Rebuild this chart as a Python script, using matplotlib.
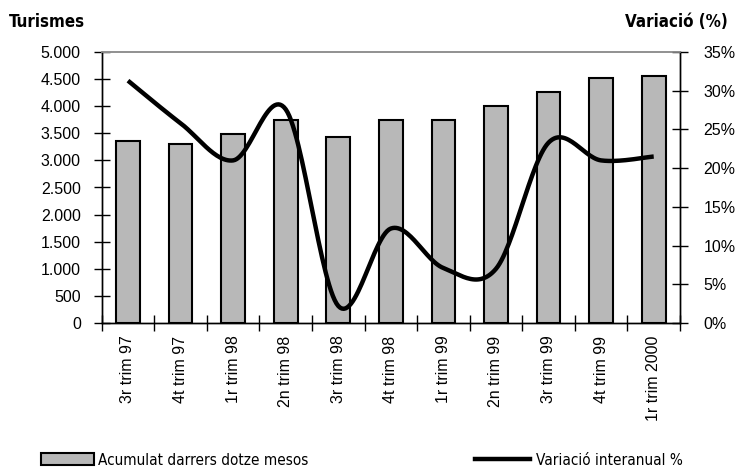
import numpy as np
import matplotlib
matplotlib.use("Agg")
import matplotlib.pyplot as plt
from matplotlib.patches import Patch
from matplotlib.lines import Line2D
from matplotlib.ticker import FuncFormatter, MultipleLocator
from matplotlib import font_manager as fm

categories = ["3r trim 97", "4t trim 97", "1r trim 98", "2n trim 98", "3r trim 98",
              "4t trim 98", "1r trim 99", "2n trim 99", "3r trim 99", "4t trim 99",
              "1r trim 2000"]
acumulat = [3360, 3310, 3490, 3750, 3440, 3750, 3750, 4000, 4260, 4520, 4560]
variacio = [31.3, 25.8, 21.0, 27.6, 2.2, 12.2, 7.1, 7.0, 23.3, 21.0, 21.5]

REG = ["Liberation Sans", "DejaVu Sans"]
cond_files = [f for f in fm.findSystemFonts() if "Condensed" in f and "DejaVuSans" in f]
cb = [f for f in cond_files if "Bold" in f and "Oblique" not in f]
cr = [f for f in cond_files if "Bold" not in f and "Oblique" not in f]
prop_title = fm.FontProperties(fname=cb[0], size=12.2) if cb else fm.FontProperties(family=REG, weight="bold", size=12.5)
prop_leg = fm.FontProperties(fname=cr[0], size=11) if cr else fm.FontProperties(family=REG, size=9.5)

fig = plt.figure(figsize=(7.35, 4.69), dpi=100)
ax = fig.add_axes([101.7/735, 1-323/469, (680-101.7)/735, (323-52)/469])
ax2 = ax.twinx()

x = np.arange(len(categories))
ax.bar(x, acumulat, width=0.45, color="#b8b8b8", edgecolor="black", linewidth=1.5, zorder=2)
ax.set_xlim(-0.5, len(categories)-0.5)
ax.set_ylim(0, 5000)
ax.yaxis.set_major_locator(MultipleLocator(500))
ax.yaxis.set_major_formatter(FuncFormatter(lambda v, p: f"{int(v):,}".replace(",", ".")))

def smooth(xs, ys, n=30):
    P = np.column_stack([xs, ys]).astype(float)
    Pe = np.vstack([P[0], P, P[-1]])
    out = []
    for i in range(len(P)-1):
        p0, p1, p2, p3 = Pe[i], Pe[i+1], Pe[i+2], Pe[i+3]
        c1 = p1 + (p2 - p0)/6
        c2 = p2 - (p3 - p1)/6
        t = np.linspace(0, 1, n)[:, None]
        seg = (1-t)**3*p1 + 3*(1-t)**2*t*c1 + 3*(1-t)*t**2*c2 + t**3*p2
        out.append(seg if i == 0 else seg[1:])
    a = np.vstack(out)
    return a[:, 0], a[:, 1]

sx, sy = smooth(x, variacio)
ax2.plot(sx, sy, color="black", linewidth=3.2, solid_capstyle="butt", zorder=3)
ax2.set_ylim(0, 35)
ax2.yaxis.set_major_locator(MultipleLocator(5))
ax2.yaxis.set_major_formatter(FuncFormatter(lambda v, p: f"{int(round(v))}%"))

ax.set_xticks(np.arange(-0.5, len(categories), 1.0))
ax.set_xticklabels([])
ax.set_xticks(x, minor=True)
ax.set_xticklabels(categories, minor=True, rotation=90, fontsize=11.5, family=REG)
ax.tick_params(axis="x", which="minor", length=0, pad=9)
ax.tick_params(axis="x", which="major", direction="inout", length=12, width=1)
ax.tick_params(axis="y", direction="inout", length=12, width=1, labelsize=11.5, pad=9)
ax2.tick_params(axis="y", direction="inout", length=12, width=1, labelsize=11.5, pad=11)
for lab in ax.get_yticklabels() + ax2.get_yticklabels():
    lab.set_family(REG)

for a in (ax, ax2):
    a.spines["top"].set_color("#909090")
    a.spines["top"].set_linewidth(1.2)
    for s in ("left", "right", "bottom"):
        a.spines[s].set_color("black")
        a.spines[s].set_linewidth(1)

fig.text(9/735, 1-27/469, "Turismes", fontproperties=prop_title, ha="left", va="baseline")
fig.text(728/735, 1-27/469, "Variació (%)", fontproperties=prop_title, ha="right", va="baseline")

fig.legend(handles=[Patch(facecolor="#b8b8b8", edgecolor="black", linewidth=1.5)],
           labels=["Acumulat darrers dotze mesos"], loc="center left",
           bbox_to_anchor=(41/735, 1-460/469), frameon=False,
           prop=prop_leg, handlelength=3.45, handleheight=0.85,
           handletextpad=0.26, borderaxespad=0, borderpad=0)
fig.legend(handles=[Line2D([], [], color="black", linewidth=3.2)],
           labels=["Variació interanual %"], loc="center left",
           bbox_to_anchor=(475/735, 1-460/469), frameon=False,
           prop=prop_leg, handlelength=3.6,
           handletextpad=0.39, borderaxespad=0, borderpad=0)

fig.savefig("out.png", dpi=100)
